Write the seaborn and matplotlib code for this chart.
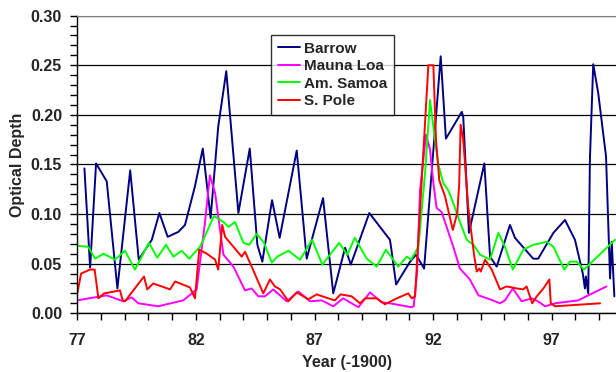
import pandas as pd
import numpy as np
import matplotlib
matplotlib.use('Agg')
import matplotlib.pyplot as plt
import seaborn as sns
from matplotlib.ticker import MultipleLocator, FixedLocator, FormatStrFormatter

# values (year - 1900, optical depth)
barrow_x = [77.30, 77.54, 77.79, 78.24, 78.69, 79.23, 79.59, 80.14, 80.46, 80.81,
            81.26, 81.54, 81.96, 82.29, 82.62, 82.94, 83.28, 83.79, 84.27, 84.59,
            84.80, 85.21, 85.53, 86.25, 86.67, 87.36, 87.79, 88.29, 88.53, 89.31,
            90.18, 90.23, 90.44, 91.03, 91.28, 91.62, 92.32, 92.54, 93.21, 93.27,
            93.51, 94.16, 94.40, 94.68, 95.24, 95.45, 96.22, 96.43, 97.07, 97.56,
            97.98, 98.31, 98.40, 98.44, 98.54, 98.61, 98.75, 98.96, 99.29, 99.46,
            99.53, 99.64]
barrow_y = [0.146, 0.046, 0.151, 0.133, 0.025, 0.144, 0.054, 0.074, 0.101, 0.077,
            0.082, 0.089, 0.128, 0.166, 0.096, 0.188, 0.244, 0.101, 0.166, 0.069,
            0.052, 0.114, 0.076, 0.164, 0.055, 0.116, 0.020, 0.066, 0.049, 0.101,
            0.074, 0.066, 0.029, 0.052, 0.059, 0.045, 0.259, 0.176, 0.203, 0.198,
            0.081, 0.151, 0.057, 0.047, 0.089, 0.076, 0.055, 0.055, 0.081, 0.094,
            0.074, 0.040, 0.025, 0.037, 0.020, 0.155, 0.251, 0.222, 0.158, 0.035,
            0.072, 0.017]

mauna_x = [77.00, 78.24, 78.94, 79.29, 79.57, 80.41, 81.47, 82.03, 82.38, 82.59,
           82.81, 83.16, 83.58, 84.07, 84.35, 84.63, 84.91, 85.26, 85.83, 86.32,
           86.81, 87.30, 87.79, 88.21, 88.85, 89.34, 89.83, 90.18, 91.10, 91.18,
           91.32, 91.45, 91.70, 91.87, 92.01, 92.15, 92.36, 92.57, 92.85, 93.13,
           93.55, 93.91, 94.40, 94.82, 95.03, 95.36, 95.73, 96.16, 96.42, 96.72,
           97.01, 97.14, 98.12, 99.31]
mauna_y = [0.013, 0.018, 0.012, 0.016, 0.010, 0.007, 0.013, 0.024, 0.091, 0.139,
           0.121, 0.059, 0.047, 0.023, 0.025, 0.017, 0.017, 0.024, 0.012, 0.022,
           0.012, 0.013, 0.007, 0.015, 0.006, 0.021, 0.011, 0.010, 0.006, 0.007,
           0.040, 0.124, 0.180, 0.165, 0.131, 0.106, 0.102, 0.087, 0.067, 0.045,
           0.034, 0.018, 0.014, 0.010, 0.013, 0.025, 0.012, 0.015, 0.012, 0.007,
           0.009, 0.010, 0.013, 0.027]

samoa_x = [77.00, 77.46, 77.75, 78.10, 78.59, 79.01, 79.43, 80.02, 80.37, 80.74,
           81.05, 81.40, 81.72, 82.17, 82.31, 82.76, 83.16, 83.37, 83.65, 84.00,
           84.25, 84.56, 84.87, 85.20, 85.43, 85.90, 86.39, 86.90, 87.33, 88.04,
           88.38, 88.70, 89.20, 89.62, 90.01, 90.53, 90.89, 91.07, 91.38, 91.66,
           91.87, 92.08, 92.22, 92.43, 92.64, 92.85, 93.13, 93.42, 93.70, 93.98,
           94.40, 94.75, 95.03, 95.36, 95.80, 96.22, 96.79, 97.07, 97.53, 97.77,
           98.05, 98.36, 99.67]
samoa_y = [0.068, 0.067, 0.055, 0.060, 0.054, 0.063, 0.044, 0.071, 0.056, 0.069,
           0.057, 0.063, 0.055, 0.067, 0.074, 0.098, 0.092, 0.087, 0.092, 0.071,
           0.069, 0.080, 0.071, 0.051, 0.057, 0.063, 0.054, 0.074, 0.049, 0.071,
           0.059, 0.076, 0.055, 0.047, 0.064, 0.047, 0.057, 0.054, 0.067, 0.141,
           0.215, 0.175, 0.150, 0.131, 0.124, 0.111, 0.092, 0.074, 0.069, 0.059,
           0.054, 0.081, 0.067, 0.044, 0.064, 0.069, 0.072, 0.067, 0.044, 0.052,
           0.052, 0.044, 0.074]

pole_x = [77.00, 77.16, 77.54, 77.73, 77.89, 78.13, 78.80, 78.91, 79.01, 79.81,
          79.95, 80.20, 80.91, 81.12, 81.75, 81.96, 82.14, 82.46, 82.81, 82.94,
          83.11, 83.23, 83.93, 84.07, 84.35, 84.84, 85.12, 85.33, 85.55, 85.90,
          86.25, 86.74, 87.09, 87.58, 87.86, 88.10, 88.57, 88.92, 89.13, 89.62,
          89.97, 90.47, 90.95, 91.10, 91.24, 91.52, 91.80, 92.01, 92.12, 92.26,
          92.50, 92.83, 93.02, 93.10, 93.16, 93.27, 93.48, 93.72, 93.84, 93.95,
          94.01, 94.19, 94.47, 94.82, 95.10, 95.52, 95.80, 95.94, 96.18, 96.37,
          96.65, 96.90, 96.96, 97.14, 99.04]
pole_y = [0.020, 0.040, 0.044, 0.044, 0.015, 0.020, 0.023, 0.013, 0.012, 0.037,
          0.024, 0.030, 0.024, 0.032, 0.026, 0.015, 0.064, 0.060, 0.054, 0.044,
          0.089, 0.077, 0.057, 0.062, 0.047, 0.020, 0.034, 0.027, 0.024, 0.012,
          0.021, 0.014, 0.019, 0.015, 0.013, 0.019, 0.017, 0.010, 0.015, 0.015,
          0.009, 0.015, 0.020, 0.015, 0.017, 0.134, 0.250, 0.250, 0.175, 0.134,
          0.118, 0.084, 0.101, 0.131, 0.190, 0.175, 0.107, 0.060, 0.042, 0.045,
          0.042, 0.054, 0.044, 0.024, 0.027, 0.025, 0.024, 0.027, 0.010, 0.017,
          0.025, 0.034, 0.010, 0.007, 0.010]

stations = ['Barrow', 'Mauna Loa', 'Am. Samoa', 'S. Pole']
colors = ['#000080', '#FF00FF', '#00FF00', '#FF0000']
year_ticks = [77, 82, 87, 92, 97]

df = pd.concat([
    pd.DataFrame({'year': barrow_x, 'od': barrow_y, 'station': 'Barrow'}),
    pd.DataFrame({'year': mauna_x, 'od': mauna_y, 'station': 'Mauna Loa'}),
    pd.DataFrame({'year': samoa_x, 'od': samoa_y, 'station': 'Am. Samoa'}),
    pd.DataFrame({'year': pole_x, 'od': pole_y, 'station': 'S. Pole'}),
])

sns.set_style('ticks')
plt.rcParams['font.family'] = ['Liberation Sans', 'DejaVu Sans']
plt.rcParams['font.weight'] = 'bold'

fig = plt.figure(figsize=(6.16, 3.72), dpi=100)
ax = fig.add_axes([0.1255, 0.158, 0.8745, 0.800])

sns.lineplot(data=df, x='year', y='od', hue='station', hue_order=stations,
             palette=colors, estimator=None, sort=False, lw=1.4, ax=ax)

ax.set_xlim(77, 99.71)
ax.set_ylim(0, 0.30)
ax.xaxis.set_major_locator(FixedLocator(year_ticks))
ax.xaxis.set_minor_locator(MultipleLocator(1))
ax.yaxis.set_major_locator(MultipleLocator(0.05))
ax.yaxis.set_minor_locator(MultipleLocator(0.01))
ax.yaxis.set_major_formatter(FormatStrFormatter('%.2f'))
ax.tick_params(axis='both', which='both', direction='out', length=5, width=1,
               color='black', labelsize=11.5, bottom=True, left=True)
ax.tick_params(axis='x', which='major', pad=9)
ax.tick_params(axis='y', which='major', pad=6)
for lab in ax.get_xticklabels() + ax.get_yticklabels():
    lab.set_fontweight('bold')

ax.grid(axis='y', which='major', color='black', lw=0.9)
ax.set_axisbelow(True)
for s in ['left', 'bottom']:
    ax.spines[s].set_color('black')
    ax.spines[s].set_linewidth(1)
ax.spines['top'].set_visible(True)
ax.spines['top'].set_color('#808080')
ax.spines['right'].set_visible(False)

ax.set_xlabel('Year (-1900)', fontsize=11.5, fontweight='bold', labelpad=5)
ax.set_ylabel('Optical Depth', fontsize=11.5, fontweight='bold', labelpad=4)

leg = ax.legend(loc='upper left', bbox_to_anchor=(0.4394, 0.906),
                bbox_transform=fig.transFigure, borderaxespad=0,
                fontsize=11, frameon=True, fancybox=False, handlelength=1.5,
                handletextpad=0.25, labelspacing=0.22, borderpad=0.45)
leg.get_frame().set_edgecolor('black')
leg.get_frame().set_linewidth(1)
for t in leg.get_texts():
    t.set_fontweight('bold')
for h in leg.get_lines():
    h.set_linewidth(1.4)

fig.savefig('out.png', dpi=100)
